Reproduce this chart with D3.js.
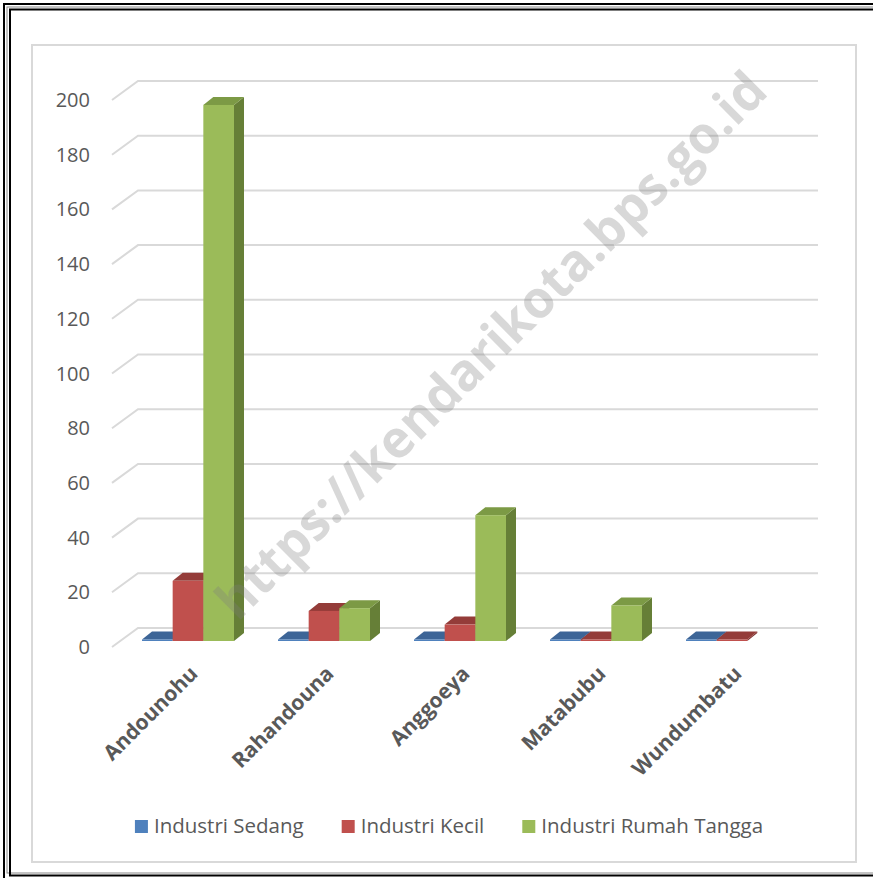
<!DOCTYPE html>
<html>
<head>
<meta charset="utf-8">
<script src="https://cdn.jsdelivr.net/npm/d3@7"></script>
<style>
  body { margin: 0; background: #fff; }
  svg { display: block; font-family: "Open Sans", sans-serif; }
</style>
</head>
<body>
<svg class="chart"></svg>
<script>
var categories = ["Andounohu", "Rahandouna", "Anggoeya", "Matabubu", "Wundumbatu"];
var seriesNames = ["Industri Sedang", "Industri Kecil", "Industri Rumah Tangga"];
var sedang = [0, 0, 0, 0, 0];
var kecil = [22, 11, 6, 0, 0];
var rumahTangga = [196, 12, 46, 13, null];
var yTicks = [0, 20, 40, 60, 80, 100, 120, 140, 160, 180, 200];

var colors = ["#4F81BD", "#C0504D", "#9BBB59"];
var tops = ["#3d6597", "#943c39", "#7c9a45"];
var sides = ["#34598a", "#843431", "#667f37"];

var frameWidth = 873, frameHeight = 878;
var svg = d3.select(".chart").attr("width", frameWidth).attr("height", frameHeight);

// outer frame
svg.append("rect").attr("x", 4).attr("y", 4).attr("width", 900).attr("height", 900)
  .attr("fill", "none").attr("stroke", "#000").attr("stroke-width", 2);
svg.append("rect").attr("x", 7).attr("y", 7).attr("width", 900).attr("height", 866)
  .attr("fill", "none").attr("stroke", "#888").attr("stroke-width", 1);
svg.append("rect").attr("x", 10).attr("y", 9.5).attr("width", 900).attr("height", 866)
  .attr("fill", "none").attr("stroke", "#000").attr("stroke-width", 2);

// chart area border
svg.append("rect").attr("x", 32).attr("y", 45).attr("width", 824).attr("height", 817)
  .attr("fill", "#fff").attr("stroke", "#d9d9d9").attr("stroke-width", 2);

// floor front edge 112..792, back wall 138..818, depth 26 x 19
var depthX = 26, depthY = 19;
var xBand = d3.scaleBand().domain(categories).range([112, 792]);
var yFront = d3.scaleLinear().domain([0, 200]).range([647, 100]);
var xSub = d3.scaleBand().domain(seriesNames).range([0, 92]);

// gridlines
svg.append("g").selectAll("path").data(yTicks).enter().append("path")
  .attr("d", function(t) {
    var y = yFront(t);
    return "M112," + y + "L" + (112 + depthX) + "," + (y - depthY) + "L" + (792 + depthX) + "," + (y - depthY);
  })
  .attr("fill", "none").attr("stroke", "#d9d9d9").attr("stroke-width", 2);

// y labels
svg.append("g").selectAll("text").data(yTicks).enter().append("text")
  .attr("x", 90).attr("y", function(t) { return yFront(t); })
  .attr("dy", "0.35em").attr("text-anchor", "end")
  .style("font-size", "20px").attr("fill", "#595959")
  .text(function(t) { return t; });

// bars
var allSeries = [sedang, kecil, rumahTangga];
var bx = 8, by = -6;   // bar front offset from floor front
var bdx = 10, bdy = -8; // bar depth
var bars = [];
categories.forEach(function(c, i) {
  allSeries.forEach(function(s, j) {
    if (s[i] === null || s[i] === undefined) return;
    bars.push({ cat: c, j: j, v: s[i] });
  });
});
var gBars = svg.append("g");
bars.forEach(function(d) {
  var x0 = xBand(d.cat) + (xBand.bandwidth() - 92) / 2 + xSub(seriesNames[d.j]) + bx;
  var w = xSub.bandwidth();
  var yb = yFront(0) + by;
  var h = Math.max(yFront(0) - yFront(d.v), 1.5);
  var yt = yb - h;
  // side
  gBars.append("path")
    .attr("d", "M" + (x0 + w) + "," + yb + "L" + (x0 + w + bdx) + "," + (yb + bdy) +
      "L" + (x0 + w + bdx) + "," + (yt + bdy) + "L" + (x0 + w) + "," + yt + "Z")
    .attr("fill", sides[d.j]);
  // top
  gBars.append("path")
    .attr("d", "M" + x0 + "," + yt + "L" + (x0 + bdx) + "," + (yt + bdy) +
      "L" + (x0 + w + bdx) + "," + (yt + bdy) + "L" + (x0 + w) + "," + yt + "Z")
    .attr("fill", tops[d.j]);
  // front
  gBars.append("rect").attr("x", x0).attr("y", yt).attr("width", w).attr("height", h)
    .attr("fill", colors[d.j]);
});

// category labels
svg.append("g").selectAll("text").data(categories).enter().append("text")
  .attr("transform", function(c) {
    return "translate(" + (xBand(c) + xBand.bandwidth() / 2 + 19) + ",675) rotate(-45)";
  })
  .attr("text-anchor", "end")
  .style("font-size", "21px").style("font-weight", "bold").attr("fill", "#595959")
  .text(function(c) { return c; });

// legend
var legend = svg.append("g");
var items = legend.selectAll("g").data(seriesNames).enter().append("g");
items.append("rect").attr("width", 13).attr("height", 13).attr("y", -13)
  .attr("fill", function(d, i) { return colors[i]; });
items.append("text").attr("x", 19).attr("y", 0)
  .style("font-size", "20.5px").attr("fill", "#595959")
  .text(function(d) { return d; });
var lx = 0;
items.each(function() {
  var g = d3.select(this);
  g.attr("transform", "translate(" + lx + ",0)");
  lx += this.getBBox().width + 38;
});
var legendW = lx - 38;
legend.attr("transform", "translate(" + (449 - legendW / 2) + ",833)");

// watermark
svg.append("text")
  .attr("transform", "translate(491,345) rotate(-44.8)")
  .attr("text-anchor", "middle").attr("dy", "0.35em")
  .attr("textLength", 750).attr("lengthAdjust", "spacingAndGlyphs")
  .style("font-size", "52px").style("font-weight", "bold")
  .attr("fill", "#7f7f7f").attr("fill-opacity", 0.3)
  .text("https://kendarikota.bps.go.id");
</script>
</body>
</html>
